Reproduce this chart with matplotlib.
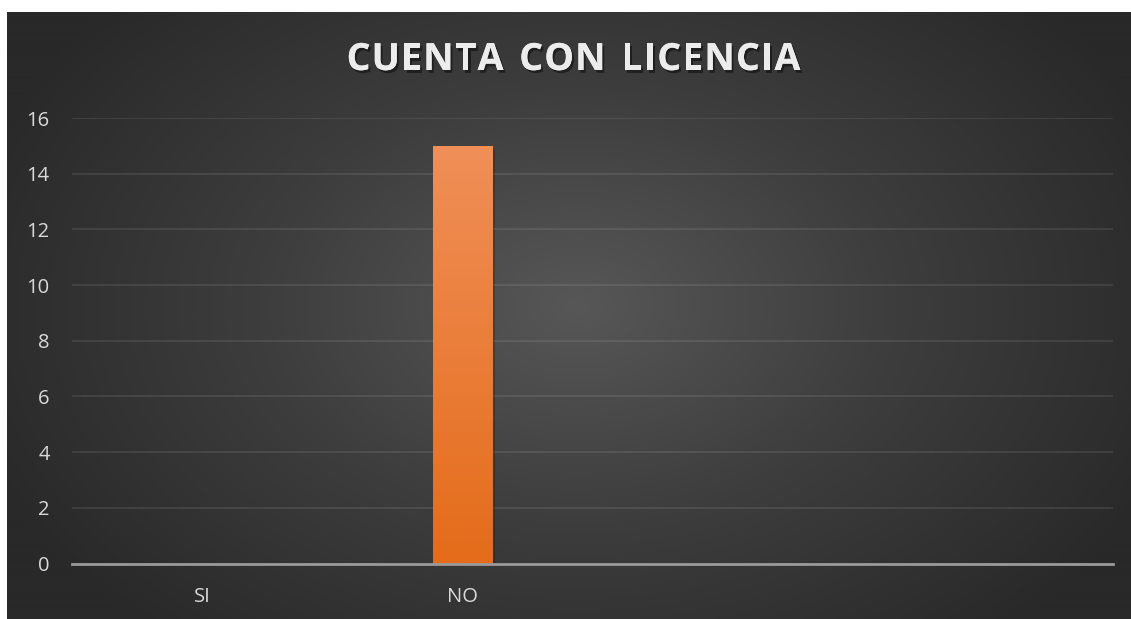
import matplotlib
matplotlib.use("Agg")
import matplotlib.pyplot as plt
import matplotlib.patheffects as pe
import numpy as np
from matplotlib.colors import LinearSegmentedColormap

# datos de la encuesta
categorias = ["SI", "NO", "", ""]
valores = [0, 15, 0, 0]
yticks = [0, 2, 4, 6, 8, 10, 12, 14, 16]
titulo = "CUENTA CON LICENCIA"

plt.rcParams['font.family'] = ['Open Sans', 'DejaVu Sans']

W, H = 1131, 619
fig = plt.figure(figsize=(W / 100, H / 100), dpi=100)
fig.patch.set_facecolor("white")

# fondo oscuro con degradado radial
bg = fig.add_axes([7 / W, 0, 1 - 7 / W, 1 - 12 / H])
bg.set_axis_off()
yy, xx = np.mgrid[0:600, 0:1124]
cx, cy = 570, 290
r = np.sqrt(((xx - cx) / 640.0) ** 2 + ((yy - cy) / 430.0) ** 2)
r = np.clip(r, 0, 1)
grad = LinearSegmentedColormap.from_list("fondo", ["#575757", "#3d3d3d", "#292929"])
bg.imshow(r, cmap=grad, aspect="auto", extent=[0, 1, 0, 1], vmin=0, vmax=1)
bg.set_xlim(0, 1)
bg.set_ylim(0, 1)

ax = fig.add_axes([72 / W, 1 - 563.5 / H, (1113 - 72) / W, (563.5 - 118) / H])
ax.patch.set_alpha(0)

x = np.arange(len(categorias))
barras = ax.bar(x, valores, width=0.227, color="#ED7D31", zorder=3)

# degradado naranja dentro de cada barra
naranja = LinearSegmentedColormap.from_list("naranja", ["#E46C1A", "#F08F58"])
for b in barras:
    h = b.get_height()
    if h <= 0:
        continue
    x0 = b.get_x()
    w = b.get_width()
    # sombra suave
    ax.bar(x0 + w / 2 + 0.01, h, width=w, bottom=-0.1, color="black", alpha=0.2, zorder=2)
    g = np.linspace(0, 1, 256).reshape(-1, 1)
    im = ax.imshow(g, cmap=naranja, aspect="auto", origin="lower",
                   extent=[x0, x0 + w, 0, h], zorder=4)
    im.set_clip_path(b)

ax.set_xlim(-0.5, len(categorias) - 0.5)
ax.set_ylim(0, 16)
ax.set_yticks(yticks)
ax.set_xticks(x)
ax.set_xticklabels(categorias)

ax.grid(axis="y", color="white", alpha=0.09, linewidth=1.4, zorder=1)
ax.tick_params(axis="both", length=0, labelsize=14.5, colors="#d9d9d9")
ax.tick_params(axis="y", pad=16)
ax.tick_params(axis="x", pad=17)
for s in ["top", "right", "left"]:
    ax.spines[s].set_visible(False)
ax.spines["bottom"].set_color("#9a9a9a")
ax.spines["bottom"].set_linewidth(2)
ax.spines["bottom"].set_zorder(5)

# titulo con espaciado entre letras
renderer = fig.canvas.get_renderer()
sombra = [pe.withSimplePatchShadow(offset=(1.5, -2), shadow_rgbFace="black", alpha=0.45), pe.Normal()]
props = dict(fontsize=27, fontweight="bold", color="#ececec")
anchos = []
for c in titulo:
    t = fig.text(0, 0, c if c != " " else "n", **props)
    anchos.append(t.get_window_extent(renderer).width * (0.55 if c == " " else 1))
    t.remove()
espacio = 1.1
total = sum(anchos) + espacio * (len(titulo) - 1)
xpos = 573.5 - total / 2
for c, a in zip(titulo, anchos):
    if c != " ":
        t = fig.text(xpos / W, 1 - 60 / H, c, ha="left", va="center", **props)
        t.set_path_effects(sombra)
    xpos += a + espacio

fig.savefig("out.png", dpi=100, facecolor=fig.get_facecolor())
